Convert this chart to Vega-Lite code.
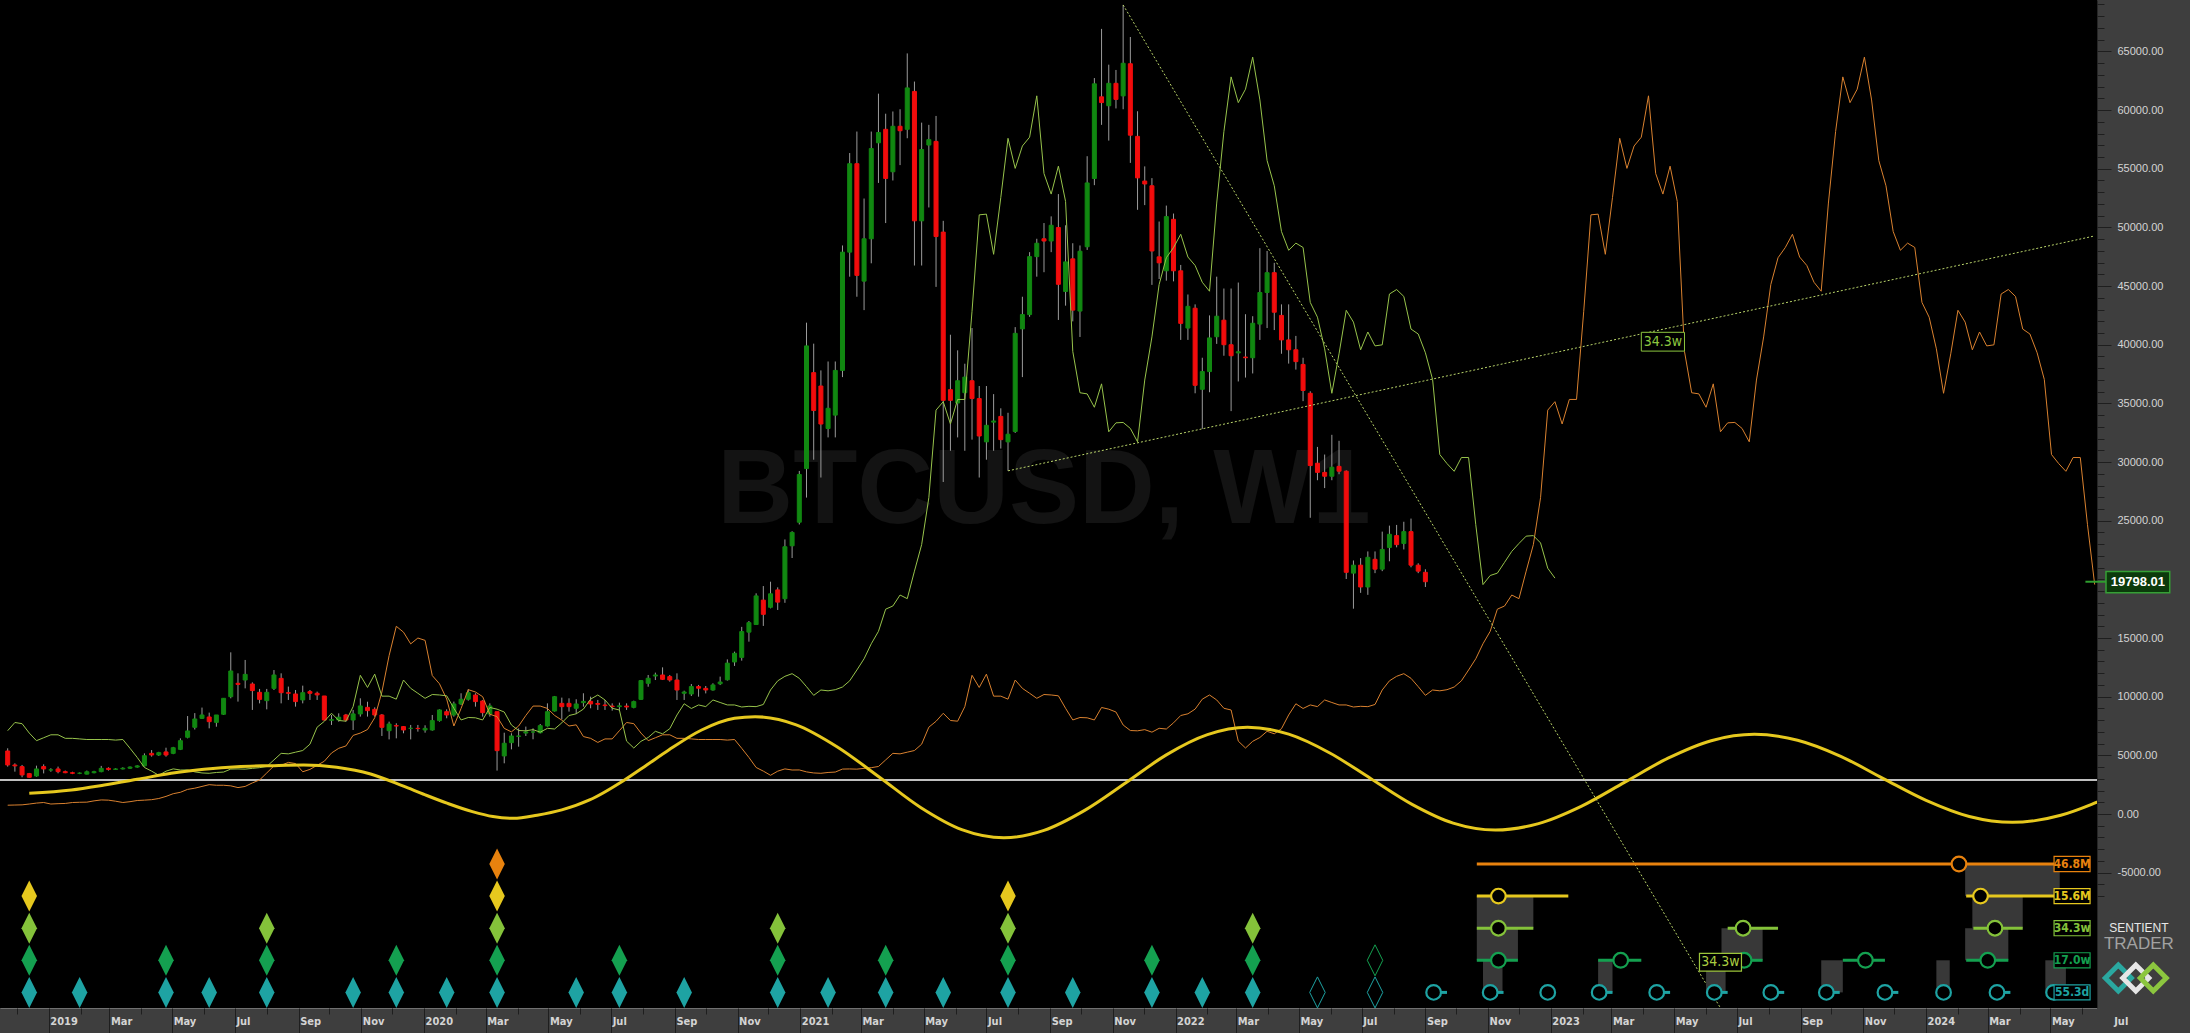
{
"$schema":"https://vega.github.io/schema/vega-lite/v6.json",
"width":2097,"height":1008,
"autosize":{"type":"none"},
"padding":{"left":0,"top":0,"right":93,"bottom":25},
"background":"#3e3e3e",
"config":{"view":{"fill":"#000000","stroke":null},"font":"Liberation Sans"},
"datasets":{
"w":[
{"d":"2018-11-22","o":5370,"h":5600,"l":4040,"c":4180,"g":7100,"r":750},
{"d":"2018-11-29","o":4180,"h":4320,"l":3610,"c":4100,"g":7800,"r":765},
{"d":"2018-12-06","o":4040,"h":4180,"l":3130,"c":3330,"g":7700,"r":780},
{"d":"2018-12-13","o":3440,"h":3500,"l":3100,"c":3130,"g":6900,"r":850},
{"d":"2018-12-20","o":3240,"h":4120,"l":3180,"c":3840,"g":6250,"r":930},
{"d":"2018-12-27","o":4040,"h":4230,"l":3460,"c":3840,"g":6500,"r":980},
{"d":"2019-01-03","o":3750,"h":3900,"l":3600,"c":3760,"g":6750,"r":850},
{"d":"2019-01-10","o":3840,"h":4040,"l":3470,"c":3610,"g":6750,"r":880},
{"d":"2019-01-17","o":3610,"h":3700,"l":3480,"c":3520,"g":6450,"r":900},
{"d":"2019-01-24","o":3520,"h":3600,"l":3400,"c":3470,"g":6450,"r":980},
{"d":"2019-01-31","o":3470,"h":3540,"l":3400,"c":3480,"g":6400,"r":1000},
{"d":"2019-02-07","o":3400,"h":3700,"l":3380,"c":3600,"g":6350,"r":1010},
{"d":"2019-02-14","o":3520,"h":3680,"l":3470,"c":3610,"g":6350,"r":1120},
{"d":"2019-02-21","o":3610,"h":4100,"l":3560,"c":3890,"g":6350,"r":1200},
{"d":"2019-02-28","o":3890,"h":3980,"l":3700,"c":3800,"g":6350,"r":1180},
{"d":"2019-03-07","o":3800,"h":3900,"l":3750,"c":3840,"g":6300,"r":1090},
{"d":"2019-03-14","o":3840,"h":3980,"l":3800,"c":3900,"g":6350,"r":980},
{"d":"2019-03-21","o":3900,"h":4050,"l":3850,"c":4000,"g":5600,"r":1050},
{"d":"2019-03-28","o":4000,"h":4150,"l":3950,"c":4100,"g":4820,"r":1150},
{"d":"2019-04-04","o":4100,"h":5170,"l":4050,"c":4970,"g":3965,"r":1180},
{"d":"2019-04-11","o":5170,"h":5450,"l":4890,"c":5030,"g":3655,"r":1220},
{"d":"2019-04-18","o":5030,"h":5300,"l":4950,"c":5230,"g":3300,"r":1320},
{"d":"2019-04-25","o":5290,"h":5650,"l":4890,"c":5030,"g":3650,"r":1500},
{"d":"2019-05-02","o":5170,"h":5720,"l":5100,"c":5650,"g":3845,"r":1730},
{"d":"2019-05-09","o":5510,"h":6450,"l":5450,"c":6250,"g":3750,"r":1850},
{"d":"2019-05-16","o":6540,"h":8350,"l":6450,"c":7080,"g":3755,"r":2100},
{"d":"2019-05-23","o":7390,"h":8600,"l":7200,"c":8100,"g":3590,"r":2200},
{"d":"2019-05-30","o":8150,"h":9070,"l":8100,"c":8440,"g":3500,"r":2350},
{"d":"2019-06-06","o":8270,"h":8640,"l":7300,"c":7870,"g":3470,"r":2500},
{"d":"2019-06-13","o":7810,"h":8380,"l":7440,"c":8440,"g":3540,"r":2450},
{"d":"2019-06-20","o":8500,"h":9860,"l":8440,"c":9860,"g":3575,"r":2450},
{"d":"2019-06-27","o":10000,"h":13780,"l":9860,"c":12190,"g":3830,"r":2400},
{"d":"2019-07-04","o":11140,"h":11990,"l":9580,"c":11050,"g":3840,"r":2250},
{"d":"2019-07-11","o":11420,"h":13130,"l":10710,"c":11900,"g":3825,"r":2350},
{"d":"2019-07-18","o":11080,"h":11220,"l":8870,"c":10520,"g":3890,"r":2650},
{"d":"2019-07-25","o":10370,"h":10660,"l":9430,"c":9770,"g":3950,"r":2900},
{"d":"2019-08-01","o":9660,"h":10660,"l":8920,"c":10370,"g":4050,"r":3500},
{"d":"2019-08-08","o":10710,"h":12270,"l":10570,"c":11850,"g":4610,"r":4100},
{"d":"2019-08-15","o":11560,"h":11990,"l":9430,"c":10340,"g":5170,"r":4150},
{"d":"2019-08-22","o":10340,"h":10860,"l":9720,"c":10290,"g":5125,"r":4400},
{"d":"2019-08-29","o":10230,"h":10570,"l":9150,"c":9580,"g":5270,"r":4300},
{"d":"2019-09-05","o":9720,"h":10940,"l":9430,"c":10340,"g":5410,"r":3600},
{"d":"2019-09-12","o":10430,"h":10570,"l":9720,"c":10290,"g":5950,"r":3800},
{"d":"2019-09-19","o":10290,"h":10430,"l":9720,"c":10150,"g":7400,"r":4150},
{"d":"2019-09-26","o":10060,"h":10060,"l":7960,"c":8010,"g":7900,"r":4500},
{"d":"2019-10-03","o":7990,"h":8440,"l":7590,"c":8040,"g":8585,"r":5200},
{"d":"2019-10-10","o":8020,"h":8580,"l":7870,"c":8250,"g":7970,"r":5600},
{"d":"2019-10-17","o":8440,"h":8530,"l":7870,"c":8010,"g":7910,"r":5800},
{"d":"2019-10-24","o":8010,"h":8870,"l":7160,"c":8530,"g":9150,"r":6700},
{"d":"2019-10-31","o":8530,"h":9860,"l":8300,"c":9210,"g":11820,"r":6900},
{"d":"2019-11-07","o":9090,"h":9570,"l":8300,"c":8810,"g":10785,"r":7200},
{"d":"2019-11-14","o":8920,"h":9090,"l":8300,"c":8440,"g":11920,"r":8200},
{"d":"2019-11-21","o":8440,"h":8520,"l":6650,"c":7390,"g":10045,"r":10400},
{"d":"2019-11-28","o":7100,"h":7870,"l":6360,"c":7670,"g":10045,"r":13500},
{"d":"2019-12-05","o":7530,"h":7730,"l":6450,"c":7500,"g":9790,"r":16000},
{"d":"2019-12-12","o":7450,"h":7500,"l":6880,"c":7160,"g":11420,"r":15500},
{"d":"2019-12-19","o":7300,"h":7590,"l":6360,"c":7300,"g":10710,"r":14500},
{"d":"2019-12-26","o":7300,"h":7590,"l":7020,"c":7280,"g":10290,"r":15000},
{"d":"2020-01-02","o":7160,"h":7560,"l":6930,"c":7300,"g":9860,"r":14800},
{"d":"2020-01-09","o":7160,"h":8440,"l":7100,"c":7960,"g":10185,"r":11800},
{"d":"2020-01-16","o":7960,"h":8920,"l":7870,"c":8870,"g":10145,"r":11100},
{"d":"2020-01-23","o":8720,"h":8920,"l":8160,"c":8440,"g":10075,"r":9800},
{"d":"2020-01-30","o":8440,"h":9580,"l":8300,"c":9380,"g":9010,"r":7500},
{"d":"2020-02-06","o":9380,"h":10290,"l":9290,"c":9780,"g":8015,"r":9000},
{"d":"2020-02-13","o":9780,"h":10630,"l":9660,"c":10340,"g":8225,"r":10600},
{"d":"2020-02-20","o":10140,"h":10290,"l":9150,"c":9580,"g":8200,"r":10400},
{"d":"2020-02-27","o":9630,"h":9720,"l":8300,"c":8640,"g":8015,"r":10000},
{"d":"2020-03-05","o":8520,"h":9430,"l":8300,"c":9210,"g":9080,"r":8500},
{"d":"2020-03-12","o":8720,"h":8720,"l":3700,"c":5400,"g":8935,"r":8300},
{"d":"2020-03-19","o":4950,"h":6930,"l":4320,"c":6030,"g":8695,"r":7300},
{"d":"2020-03-26","o":6080,"h":6880,"l":5510,"c":6650,"g":7585,"r":7000},
{"d":"2020-04-02","o":6620,"h":7300,"l":5740,"c":6650,"g":7115,"r":7500},
{"d":"2020-04-09","o":6900,"h":7450,"l":6650,"c":7000,"g":7090,"r":8400},
{"d":"2020-04-16","o":6990,"h":7300,"l":6370,"c":6990,"g":7190,"r":9200},
{"d":"2020-04-23","o":6930,"h":7670,"l":6870,"c":7530,"g":6975,"r":9200},
{"d":"2020-04-30","o":7500,"h":9430,"l":7450,"c":8720,"g":7305,"r":9000},
{"d":"2020-05-07","o":8780,"h":10060,"l":8730,"c":10000,"g":7245,"r":8400},
{"d":"2020-05-14","o":9430,"h":9920,"l":8070,"c":9150,"g":7770,"r":8000},
{"d":"2020-05-21","o":9430,"h":9860,"l":8730,"c":9150,"g":8395,"r":7500},
{"d":"2020-05-28","o":9010,"h":9780,"l":8530,"c":9380,"g":8540,"r":7600},
{"d":"2020-06-04","o":9490,"h":10290,"l":9150,"c":9600,"g":8940,"r":6600},
{"d":"2020-06-11","o":9600,"h":10000,"l":9010,"c":9380,"g":9790,"r":6450},
{"d":"2020-06-18","o":9420,"h":9720,"l":8870,"c":9350,"g":10145,"r":6100},
{"d":"2020-06-25","o":9290,"h":9720,"l":8870,"c":9240,"g":9720,"r":6400},
{"d":"2020-07-02","o":9200,"h":9430,"l":8810,"c":9150,"g":9010,"r":6400},
{"d":"2020-07-09","o":9150,"h":9490,"l":8870,"c":9220,"g":8865,"r":7100},
{"d":"2020-07-16","o":9200,"h":9430,"l":8870,"c":9120,"g":6210,"r":7800},
{"d":"2020-07-23","o":9090,"h":9660,"l":9010,"c":9580,"g":5625,"r":7700},
{"d":"2020-07-30","o":9770,"h":11420,"l":9720,"c":11370,"g":6195,"r":6900},
{"d":"2020-08-06","o":11140,"h":11850,"l":10850,"c":11570,"g":6520,"r":6250},
{"d":"2020-08-13","o":11760,"h":12050,"l":11420,"c":11850,"g":7050,"r":6500},
{"d":"2020-08-20","o":11850,"h":12500,"l":11420,"c":11480,"g":6835,"r":6750},
{"d":"2020-08-27","o":11710,"h":11850,"l":11280,"c":11420,"g":7270,"r":6750},
{"d":"2020-09-03","o":11420,"h":11990,"l":9720,"c":10570,"g":8440,"r":6450},
{"d":"2020-09-10","o":10290,"h":10510,"l":9720,"c":10400,"g":9395,"r":6450},
{"d":"2020-09-17","o":10230,"h":11080,"l":10060,"c":10860,"g":8995,"r":6400},
{"d":"2020-09-24","o":10860,"h":11000,"l":10000,"c":10720,"g":9295,"r":6350},
{"d":"2020-10-01","o":10710,"h":10910,"l":10280,"c":10570,"g":9155,"r":6350},
{"d":"2020-10-08","o":10570,"h":11140,"l":10510,"c":11000,"g":9720,"r":6350},
{"d":"2020-10-15","o":11100,"h":11710,"l":10990,"c":11250,"g":9505,"r":6350},
{"d":"2020-10-22","o":11440,"h":13180,"l":11370,"c":12860,"g":9295,"r":6300},
{"d":"2020-10-29","o":12960,"h":13840,"l":12620,"c":13700,"g":9295,"r":6350},
{"d":"2020-11-05","o":13350,"h":15950,"l":13070,"c":15550,"g":9120,"r":5600},
{"d":"2020-11-12","o":15500,"h":16450,"l":14690,"c":16310,"g":9180,"r":4820},
{"d":"2020-11-19","o":16150,"h":18810,"l":16110,"c":18590,"g":9150,"r":3965},
{"d":"2020-11-26","o":18230,"h":19430,"l":16030,"c":17020,"g":9335,"r":3655},
{"d":"2020-12-03","o":17620,"h":19800,"l":17530,"c":18770,"g":10570,"r":3300},
{"d":"2020-12-10","o":19100,"h":19320,"l":17390,"c":18060,"g":11350,"r":3650},
{"d":"2020-12-17","o":18350,"h":23400,"l":18000,"c":22780,"g":11735,"r":3845},
{"d":"2020-12-24","o":22860,"h":24100,"l":21820,"c":24000,"g":11960,"r":3750},
{"d":"2020-12-31","o":24870,"h":29240,"l":24680,"c":28940,"g":11565,"r":3755},
{"d":"2021-01-07","o":29440,"h":41880,"l":26970,"c":39900,"g":10855,"r":3590},
{"d":"2021-01-14","o":37620,"h":40090,"l":30200,"c":34390,"g":10115,"r":3500},
{"d":"2021-01-21","o":36480,"h":37810,"l":28680,"c":33240,"g":10570,"r":3470},
{"d":"2021-01-28","o":32860,"h":38570,"l":32100,"c":34580,"g":10500,"r":3540},
{"d":"2021-02-04","o":34000,"h":38570,"l":32100,"c":37810,"g":10595,"r":3575},
{"d":"2021-02-11","o":37810,"h":48460,"l":37240,"c":47890,"g":10825,"r":3830},
{"d":"2021-02-18","o":47890,"h":56340,"l":45800,"c":55430,"g":11350,"r":3840},
{"d":"2021-02-25","o":55430,"h":58170,"l":44090,"c":45910,"g":12275,"r":3825},
{"d":"2021-03-04","o":45420,"h":52460,"l":42950,"c":49030,"g":13230,"r":3890},
{"d":"2021-03-11","o":49030,"h":58170,"l":46940,"c":56720,"g":14510,"r":3950},
{"d":"2021-03-18","o":57210,"h":61400,"l":53790,"c":58090,"g":15570,"r":4050},
{"d":"2021-03-25","o":58360,"h":59690,"l":50370,"c":54170,"g":17460,"r":4610},
{"d":"2021-04-01","o":54740,"h":59880,"l":54000,"c":58620,"g":17730,"r":5170},
{"d":"2021-04-08","o":58620,"h":60070,"l":55310,"c":58240,"g":18665,"r":5125},
{"d":"2021-04-15","o":58360,"h":64830,"l":57600,"c":61890,"g":18355,"r":5270},
{"d":"2021-04-22","o":61590,"h":62430,"l":46750,"c":50560,"g":20700,"r":5410},
{"d":"2021-04-29","o":50560,"h":58930,"l":46750,"c":56640,"g":22960,"r":5950},
{"d":"2021-05-06","o":57020,"h":58740,"l":51700,"c":57480,"g":26960,"r":7400},
{"d":"2021-05-13","o":57330,"h":59500,"l":44930,"c":49220,"g":34425,"r":7900},
{"d":"2021-05-20","o":49600,"h":50560,"l":28300,"c":35260,"g":35145,"r":8585},
{"d":"2021-05-27","o":36170,"h":40850,"l":30960,"c":35260,"g":33245,"r":7970},
{"d":"2021-06-03","o":35030,"h":39520,"l":32100,"c":36930,"g":35335,"r":7910},
{"d":"2021-06-10","o":35910,"h":38380,"l":30960,"c":37240,"g":35335,"r":9150},
{"d":"2021-06-17","o":36930,"h":41420,"l":31910,"c":35410,"g":42850,"r":11820},
{"d":"2021-06-24","o":35410,"h":36480,"l":28680,"c":32220,"g":51070,"r":10785},
{"d":"2021-07-01","o":31720,"h":36480,"l":30200,"c":33130,"g":51130,"r":11920},
{"d":"2021-07-08","o":33400,"h":35790,"l":30960,"c":33500,"g":47705,"r":10045},
{"d":"2021-07-15","o":33890,"h":34580,"l":31150,"c":31910,"g":52555,"r":10045},
{"d":"2021-07-22","o":31720,"h":34200,"l":29250,"c":32370,"g":57595,"r":9790},
{"d":"2021-07-29","o":32600,"h":41500,"l":32480,"c":40970,"g":55030,"r":11420},
{"d":"2021-08-05","o":41350,"h":44090,"l":37240,"c":42570,"g":56940,"r":10710},
{"d":"2021-08-12","o":42570,"h":47890,"l":42380,"c":47510,"g":57690,"r":10290},
{"d":"2021-08-19","o":47510,"h":49030,"l":45800,"c":48650,"g":61215,"r":9860},
{"d":"2021-08-26","o":49030,"h":50370,"l":46180,"c":48840,"g":54590,"r":10185},
{"d":"2021-09-02","o":48840,"h":50940,"l":47890,"c":50180,"g":52840,"r":10145},
{"d":"2021-09-09","o":49990,"h":52840,"l":42110,"c":45150,"g":55220,"r":10075},
{"d":"2021-09-16","o":44540,"h":50180,"l":43330,"c":47060,"g":52215,"r":9010},
{"d":"2021-09-23","o":47320,"h":48650,"l":41990,"c":42950,"g":39430,"r":8015},
{"d":"2021-09-30","o":42870,"h":48460,"l":40660,"c":47970,"g":35905,"r":8225},
{"d":"2021-10-07","o":48350,"h":56070,"l":48080,"c":53790,"g":35810,"r":8200},
{"d":"2021-10-14","o":54170,"h":62730,"l":53600,"c":62240,"g":34670,"r":8015},
{"d":"2021-10-21","o":61130,"h":66920,"l":58740,"c":60640,"g":36665,"r":9080},
{"d":"2021-10-28","o":60370,"h":63870,"l":57400,"c":62280,"g":32580,"r":8935},
{"d":"2021-11-04","o":62280,"h":63420,"l":60140,"c":60910,"g":33340,"r":8695},
{"d":"2021-11-11","o":61210,"h":68960,"l":60070,"c":63990,"g":33375,"r":7585},
{"d":"2021-11-18","o":63950,"h":66230,"l":55500,"c":57860,"g":32865,"r":7115},
{"d":"2021-11-25","o":57760,"h":59900,"l":51500,"c":54220,"g":31725,"r":7090},
{"d":"2021-12-02","o":53950,"h":55200,"l":51900,"c":53700,"g":36990,"r":7190},
{"d":"2021-12-09","o":53550,"h":54200,"l":45100,"c":47990,"g":40665,"r":6975},
{"d":"2021-12-16","o":47490,"h":50500,"l":45600,"c":46980,"g":45135,"r":7305},
{"d":"2021-12-23","o":46300,"h":51860,"l":45460,"c":50920,"g":47415,"r":7245},
{"d":"2021-12-30","o":50690,"h":51180,"l":45400,"c":46300,"g":48275,"r":7770},
{"d":"2022-01-06","o":46300,"h":46800,"l":40410,"c":41820,"g":49415,"r":8395},
{"d":"2022-01-13","o":41420,"h":44280,"l":40410,"c":43270,"g":47475,"r":8540},
{"d":"2022-01-20","o":43110,"h":43440,"l":35860,"c":36540,"g":46755,"r":8940},
{"d":"2022-01-27","o":36200,"h":38890,"l":32830,"c":37710,"g":45320,"r":9790},
{"d":"2022-02-03","o":37710,"h":42500,"l":35950,"c":40580,"g":44560,"r":10145},
{"d":"2022-02-10","o":40680,"h":45800,"l":40070,"c":42430,"g":52075,"r":9720},
{"d":"2022-02-17","o":42090,"h":44790,"l":39060,"c":40000,"g":58165,"r":9010},
{"d":"2022-02-24","o":40000,"h":44790,"l":34340,"c":39060,"g":62830,"r":8865},
{"d":"2022-03-03","o":39300,"h":45300,"l":36870,"c":39400,"g":60635,"r":6210},
{"d":"2022-03-10","o":38950,"h":42600,"l":37200,"c":38890,"g":61780,"r":5625},
{"d":"2022-03-17","o":38890,"h":42430,"l":37550,"c":41830,"g":64515,"r":6195},
{"d":"2022-03-24","o":41760,"h":48230,"l":40410,"c":44450,"g":60865,"r":6520},
{"d":"2022-03-31","o":44450,"h":47990,"l":41420,"c":46140,"g":55700,"r":7050},
{"d":"2022-04-07","o":46140,"h":46980,"l":41250,"c":42770,"g":53550,"r":6835},
{"d":"2022-04-14","o":42500,"h":43440,"l":39230,"c":40410,"g":49650,"r":7270},
{"d":"2022-04-21","o":40410,"h":43440,"l":38390,"c":39570,"g":48050,"r":8440},
{"d":"2022-04-28","o":39570,"h":40750,"l":37880,"c":38560,"g":48660,"r":9395},
{"d":"2022-05-05","o":38320,"h":38890,"l":35190,"c":36100,"g":48290,"r":8995},
{"d":"2022-05-12","o":35860,"h":36030,"l":25250,"c":29700,"g":43605,"r":9295},
{"d":"2022-05-19","o":29900,"h":31290,"l":28450,"c":29120,"g":42345,"r":9155},
{"d":"2022-05-26","o":29120,"h":30640,"l":27780,"c":28790,"g":39650,"r":9720},
{"d":"2022-06-02","o":28790,"h":32320,"l":28450,"c":29560,"g":35860,"r":9505},
{"d":"2022-06-09","o":29630,"h":31810,"l":28960,"c":29220,"g":39225,"r":9295},
{"d":"2022-06-16","o":29220,"h":29290,"l":20030,"c":20600,"g":42935,"r":9295},
{"d":"2022-06-23","o":20530,"h":21610,"l":17500,"c":21210,"g":41925,"r":9120},
{"d":"2022-06-30","o":21210,"h":21810,"l":18850,"c":19350,"g":39565,"r":9180},
{"d":"2022-07-07","o":19350,"h":22380,"l":18680,"c":21880,"g":41085,"r":9150},
{"d":"2022-07-14","o":21710,"h":22380,"l":20530,"c":20870,"g":39900,"r":9335},
{"d":"2022-07-21","o":20870,"h":24070,"l":20700,"c":22550,"g":39990,"r":10570},
{"d":"2022-07-28","o":22720,"h":24580,"l":21540,"c":23840,"g":44320,"r":11350},
{"d":"2022-08-04","o":23730,"h":24640,"l":22730,"c":22960,"g":44705,"r":11735},
{"d":"2022-08-11","o":23060,"h":24910,"l":22550,"c":24070,"g":44115,"r":11960},
{"d":"2022-08-18","o":24070,"h":25180,"l":21030,"c":21210,"g":41335,"r":11565},
{"d":"2022-08-25","o":21210,"h":21370,"l":20530,"c":20700,"g":40915,"r":10855},
{"d":"2022-09-01","o":20600,"h":20860,"l":19350,"c":19798.01,"g":39315,"r":10115},
{"d":"2022-09-08","g":37040,"r":10570},
{"d":"2022-09-15","g":30640,"r":10500},
{"d":"2022-09-22","g":29870,"r":10595},
{"d":"2022-09-29","g":29210,"r":10825},
{"d":"2022-10-06","g":30385,"r":11350},
{"d":"2022-10-13","g":30385,"r":12275},
{"d":"2022-10-20","g":24660,"r":13230},
{"d":"2022-10-27","g":19555,"r":14510},
{"d":"2022-11-03","g":20330,"r":15570},
{"d":"2022-11-10","g":20530,"r":17460},
{"d":"2022-11-17","g":21455,"r":17730},
{"d":"2022-11-24","g":22385,"r":18665},
{"d":"2022-12-01","g":23060,"r":18355},
{"d":"2022-12-08","g":23685,"r":20700},
{"d":"2022-12-15","g":23730,"r":22960},
{"d":"2022-12-22","g":23105,"r":26960},
{"d":"2022-12-29","g":20950,"r":34425},
{"d":"2023-01-05","g":20105,"r":35145},
{"d":"2023-01-12","r":33245},{"d":"2023-01-19","r":35335},{"d":"2023-01-26","r":35335},
{"d":"2023-02-02","r":42850},{"d":"2023-02-09","r":51070},{"d":"2023-02-16","r":51130},{"d":"2023-02-23","r":47705},
{"d":"2023-03-02","r":52555},{"d":"2023-03-09","r":57595},{"d":"2023-03-16","r":55030},{"d":"2023-03-23","r":56940},{"d":"2023-03-30","r":57690},
{"d":"2023-04-06","r":61215},{"d":"2023-04-13","r":54590},{"d":"2023-04-20","r":52840},{"d":"2023-04-27","r":55220},
{"d":"2023-05-04","r":52215},{"d":"2023-05-11","r":39430},{"d":"2023-05-18","r":35905},{"d":"2023-05-25","r":35810},
{"d":"2023-06-01","r":34670},{"d":"2023-06-08","r":36665},{"d":"2023-06-15","r":32580},{"d":"2023-06-22","r":33340},{"d":"2023-06-29","r":33375},
{"d":"2023-07-06","r":32865},{"d":"2023-07-13","r":31725},{"d":"2023-07-20","r":36990},{"d":"2023-07-27","r":40665},
{"d":"2023-08-03","r":45135},{"d":"2023-08-10","r":47415},{"d":"2023-08-17","r":48275},{"d":"2023-08-24","r":49415},{"d":"2023-08-31","r":47475},
{"d":"2023-09-07","r":46755},{"d":"2023-09-14","r":45320},{"d":"2023-09-21","r":44560},{"d":"2023-09-28","r":52075},
{"d":"2023-10-05","r":58165},{"d":"2023-10-12","r":62830},{"d":"2023-10-19","r":60635},{"d":"2023-10-26","r":61780},
{"d":"2023-11-02","r":64515},{"d":"2023-11-09","r":60865},{"d":"2023-11-16","r":55700},{"d":"2023-11-23","r":53550},{"d":"2023-11-30","r":49650},
{"d":"2023-12-07","r":48050},{"d":"2023-12-14","r":48660},{"d":"2023-12-21","r":48290},{"d":"2023-12-28","r":43605},
{"d":"2024-01-04","r":42345},{"d":"2024-01-11","r":39650},{"d":"2024-01-18","r":35860},{"d":"2024-01-25","r":39225},
{"d":"2024-02-01","r":42935},{"d":"2024-02-08","r":41925},{"d":"2024-02-15","r":39565},{"d":"2024-02-22","r":41085},{"d":"2024-02-29","r":39900},
{"d":"2024-03-07","r":39990},{"d":"2024-03-14","r":44320},{"d":"2024-03-21","r":44705},{"d":"2024-03-28","r":44115},
{"d":"2024-04-04","r":41335},{"d":"2024-04-11","r":40915},{"d":"2024-04-18","r":39315},{"d":"2024-04-25","r":37040},
{"d":"2024-05-02","r":30640},{"d":"2024-05-09","r":29870},{"d":"2024-05-16","r":29210},{"d":"2024-05-23","r":30385},{"d":"2024-05-30","r":30385},
{"d":"2024-06-06","r":24660},{"d":"2024-06-13","r":19555}
],
"ys":[
{"d":"2018-12-13","v":1763},{"d":"2019-01-23","v":2047},{"d":"2019-02-24","v":2473},{"d":"2019-03-28","v":2956},
{"d":"2019-04-30","v":3467},{"d":"2019-06-01","v":3808},{"d":"2019-07-03","v":4036},{"d":"2019-08-05","v":4121},
{"d":"2019-09-06","v":4178},{"d":"2019-10-08","v":3979},{"d":"2019-11-10","v":3410},{"d":"2019-12-12","v":2370},
{"d":"2019-12-31","v":1706},{"d":"2020-01-24","v":900},{"d":"2020-02-17","v":200},{"d":"2020-03-08","v":-220},
{"d":"2020-03-28","v":-370},{"d":"2020-04-20","v":-100},{"d":"2020-05-14","v":350},{"d":"2020-06-10","v":1195},
{"d":"2020-07-14","v":2900},{"d":"2020-08-05","v":4200},{"d":"2020-08-26","v":5456},{"d":"2020-09-27","v":7160},
{"d":"2020-10-29","v":8156},{"d":"2020-11-18","v":8294},{"d":"2020-12-28","v":7603},{"d":"2021-02-06","v":5716},
{"d":"2021-03-19","v":3137},{"d":"2021-04-28","v":558},{"d":"2021-06-07","v":-1329},{"d":"2021-07-18","v":-2020},
{"d":"2021-08-26","v":-1390},{"d":"2021-10-05","v":333},{"d":"2021-11-14","v":2685},{"d":"2021-12-23","v":5037},
{"d":"2022-02-01","v":6760},{"d":"2022-03-12","v":7390},{"d":"2022-04-21","v":6803},{"d":"2022-05-31","v":5201},
{"d":"2022-07-10","v":3013},{"d":"2022-08-19","v":825},{"d":"2022-09-28","v":-777},{"d":"2022-11-08","v":-1364},
{"d":"2022-12-20","v":-817},{"d":"2023-01-31","v":676},{"d":"2023-03-14","v":2715},{"d":"2023-04-25","v":4754},
{"d":"2023-06-06","v":6247},{"d":"2023-07-18","v":6793},{"d":"2023-08-29","v":6291},{"d":"2023-10-10","v":4918},
{"d":"2023-11-20","v":3042},{"d":"2024-01-01","v":1166},{"d":"2024-02-12","v":-207},{"d":"2024-03-25","v":-710},
{"d":"2024-04-16","v":-564},{"d":"2024-05-11","v":-109},{"d":"2024-06-10","v":822},{"d":"2024-07-03","v":1718}
],
"tl":[
{"id":"a","d":"2021-11-11","v":68960},{"id":"a","d":"2023-06-15","v":-16536},
{"id":"b","d":"2021-07-22","v":29250},{"id":"b","d":"2024-06-13","v":49273}
],
"dm":[
{"d":"2018-12-13","row":4,"h":0},{"d":"2019-01-31","row":4,"h":0},{"d":"2019-04-25","row":4,"h":0},{"d":"2019-06-06","row":4,"h":0},
{"d":"2019-08-01","row":4,"h":0},{"d":"2019-10-24","row":4,"h":0},{"d":"2019-12-05","row":4,"h":0},{"d":"2020-01-23","row":4,"h":0},
{"d":"2020-03-12","row":4,"h":0},{"d":"2020-05-28","row":4,"h":0},{"d":"2020-07-09","row":4,"h":0},{"d":"2020-09-10","row":4,"h":0},
{"d":"2020-12-10","row":4,"h":0},{"d":"2021-01-28","row":4,"h":0},{"d":"2021-03-25","row":4,"h":0},{"d":"2021-05-20","row":4,"h":0},
{"d":"2021-07-22","row":4,"h":0},{"d":"2021-09-23","row":4,"h":0},{"d":"2021-12-09","row":4,"h":0},{"d":"2022-01-27","row":4,"h":0},
{"d":"2022-03-17","row":4,"h":0},
{"d":"2018-12-13","row":3,"h":0},{"d":"2019-04-25","row":3,"h":0},{"d":"2019-08-01","row":3,"h":0},{"d":"2019-12-05","row":3,"h":0},
{"d":"2020-03-12","row":3,"h":0},{"d":"2020-07-09","row":3,"h":0},{"d":"2020-12-10","row":3,"h":0},{"d":"2021-03-25","row":3,"h":0},
{"d":"2021-07-22","row":3,"h":0},{"d":"2021-12-09","row":3,"h":0},{"d":"2022-03-17","row":3,"h":0},
{"d":"2018-12-13","row":2,"h":0},{"d":"2019-08-01","row":2,"h":0},{"d":"2020-03-12","row":2,"h":0},{"d":"2020-12-10","row":2,"h":0},
{"d":"2021-07-22","row":2,"h":0},{"d":"2022-03-17","row":2,"h":0},
{"d":"2018-12-13","row":1,"h":0},{"d":"2020-03-12","row":1,"h":0},{"d":"2021-07-22","row":1,"h":0},
{"d":"2020-03-12","row":0,"h":0},
{"d":"2022-05-19","row":4,"h":1},{"d":"2022-07-14","row":4,"h":1},{"d":"2022-07-14","row":3,"h":1}
],
"pc":[
{"d":"2024-02-02","row":0},{"d":"2022-11-11","row":1},{"d":"2024-02-23","row":1},
{"d":"2022-11-11","row":2},{"d":"2023-07-07","row":2},{"d":"2024-03-08","row":2},
{"d":"2022-11-11","row":3},{"d":"2023-03-10","row":3},{"d":"2023-07-08","row":3},{"d":"2023-11-03","row":3},{"d":"2024-03-01","row":3},
{"d":"2022-09-09","row":4},{"d":"2022-11-03","row":4},{"d":"2022-12-29","row":4},{"d":"2023-02-17","row":4},{"d":"2023-04-14","row":4},
{"d":"2023-06-09","row":4},{"d":"2023-08-03","row":4},{"d":"2023-09-26","row":4},{"d":"2023-11-22","row":4},{"d":"2024-01-18","row":4},
{"d":"2024-03-10","row":4},{"d":"2024-05-04","row":4}
],
"sg":[
{"d":"2022-10-21","d2":"2024-05-06","row":0},
{"d":"2022-10-21","d2":"2023-01-18","row":1},{"d":"2024-02-09","d2":"2024-05-06","row":1},
{"d":"2022-10-21","d2":"2022-12-15","row":2},{"d":"2023-06-22","d2":"2023-08-10","row":2},{"d":"2024-02-16","d2":"2024-04-04","row":2},
{"d":"2022-10-21","d2":"2022-11-30","row":3},{"d":"2023-02-16","d2":"2023-03-30","row":3},{"d":"2023-07-06","d2":"2023-07-26","row":3},
{"d":"2023-10-12","d2":"2023-11-22","row":3},{"d":"2024-02-09","d2":"2024-03-21","row":3},
{"d":"2022-09-16","d2":"2022-09-22","row":4},{"d":"2022-11-10","d2":"2022-11-16","row":4},{"d":"2023-02-24","d2":"2023-03-02","row":4},
{"d":"2023-04-21","d2":"2023-04-27","row":4},{"d":"2023-06-16","d2":"2023-06-22","row":4},{"d":"2023-08-10","d2":"2023-08-16","row":4},
{"d":"2023-10-03","d2":"2023-10-09","row":4},{"d":"2023-11-29","d2":"2023-12-05","row":4},{"d":"2024-03-17","d2":"2024-03-23","row":4}
],
"gr":[
{"d":"2022-10-21","d2":"2022-12-15","row":1,"row2":2},{"d":"2022-10-21","d2":"2022-11-30","row":2,"row2":3},
{"d":"2022-10-27","d2":"2022-11-15","row":3,"row2":4},{"d":"2023-02-16","d2":"2023-03-02","row":3,"row2":4},
{"d":"2023-06-16","d2":"2023-07-26","row":2,"row2":3},{"d":"2023-06-01","d2":"2023-06-20","row":3,"row2":4},
{"d":"2023-09-21","d2":"2023-10-12","row":3,"row2":4},{"d":"2024-02-08","d2":"2024-05-10","row":0,"row2":1},
{"d":"2024-02-15","d2":"2024-04-04","row":1,"row2":2},{"d":"2024-02-08","d2":"2024-03-21","row":2,"row2":3},
{"d":"2024-01-11","d2":"2024-01-24","row":3,"row2":4},{"d":"2024-04-26","d2":"2024-05-16","row":3,"row2":4}
],
"lb":[
{"d":"2024-05-22","row":0,"t":"46.8M"},{"d":"2024-05-22","row":1,"t":"15.6M"},{"d":"2024-05-22","row":2,"t":"34.3w"},
{"d":"2024-05-22","row":3,"t":"17.0w"},{"d":"2024-05-22","row":4,"t":"55.3d"}
]
},
"layer":[
{"layer":[
{"data":{"values":[{"d":"2021-08-26","v":27530,"t":"BTCUSD, W1"}]},
 "mark":{"type":"text","fontSize":105,"fontWeight":"bold","font":"Liberation Sans","color":"#131313","align":"center","baseline":"middle","clip":true},
 "encoding":{
  "x":{"field":"d","type":"temporal","title":null,"scale":{"type":"utc","domain":[{"year":2018,"month":11,"date":19,"hours":9,"minutes":20,"utc":true},{"year":2024,"month":6,"date":10,"hours":9,"minutes":20,"utc":true}]},
   "axis":{"orient":"bottom","title":null,"grid":false,"tickCount":{"interval":"month","step":2},"tickSize":25,"tickColor":"#1e1e1e","tickWidth":1,"domain":true,"domainColor":"#707070","labelAlign":"left","labelOffset":1,"labelPadding":-12,"labelBaseline":"middle","labelColor":"#d4d4d4","labelFont":"Liberation Sans Narrow, DejaVu Sans Condensed, Arial Narrow, sans-serif","labelFontSize":11,"labelFontWeight":"bold","labelOverlap":false,"labelFlush":false,"labelBound":false,
   "labelExpr":"utcmonth(datum.value) == 0 ? utcFormat(datum.value, '%Y') : utcFormat(datum.value, '%b')"}},
  "y":{"field":"v","type":"quantitative","title":null,"scale":{"domain":[-16536,69383],"nice":false,"zero":false},
   "axis":{"orient":"right","title":null,"grid":false,"values":[-5000,0,5000,10000,15000,25000,30000,35000,40000,45000,50000,55000,60000,65000],"tickSize":14,"tickColor":"#1e1e1e","domain":true,"domainColor":"#262626","labelPadding":6,"labelAlign":"left","labelBaseline":"middle","labelColor":"#d4d4d4","labelFont":"Liberation Sans","labelFontSize":11,"labelOverlap":false,"labelFlush":false,
   "labelExpr":"(datum.value < 0 ? '-' : '') + format(abs(datum.value), '.2f')"}},
  "text":{"field":"t"}}},
{"data":{"values":[{"v":2900}]},
 "mark":{"type":"rule","color":"#ffffff","strokeWidth":1.5,"clip":true},
 "encoding":{"y":{"field":"v","type":"quantitative","title":null,"axis":{"orient":"right"}}}},
{"data":{"name":"w"},"transform":[{"filter":"isValid(datum.o)"}],
 "mark":{"type":"rule","color":"#9b9b9b","strokeWidth":1,"clip":true},
 "encoding":{"x":{"field":"d","type":"temporal","title":null},"y":{"field":"l","type":"quantitative","title":null,"axis":{"orient":"right"}},"y2":{"field":"h"}}},
{"data":{"name":"w"},"transform":[{"filter":"isValid(datum.o)"}],
 "mark":{"type":"bar","size":4,"strokeWidth":1,"clip":true},
 "encoding":{"x":{"field":"d","type":"temporal","title":null},"y":{"field":"o","type":"quantitative","title":null,"axis":{"orient":"right"}},"y2":{"field":"c"},
  "fill":{"condition":{"test":"datum.c >= datum.o","value":"#118811"},"value":"#f20c0c"},
  "stroke":{"condition":{"test":"datum.c >= datum.o","value":"#118811"},"value":"#f20c0c"}}},
{"data":{"name":"w"},"transform":[{"filter":"isValid(datum.r)"}],
 "mark":{"type":"line","color":"#d9812f","strokeWidth":1,"clip":true},
 "encoding":{"x":{"field":"d","type":"temporal","title":null},"y":{"field":"r","type":"quantitative","title":null,"axis":{"orient":"right"}}}},
{"data":{"name":"w"},"transform":[{"filter":"isValid(datum.g)"}],
 "mark":{"type":"line","color":"#97c34b","strokeWidth":1,"clip":true},
 "encoding":{"x":{"field":"d","type":"temporal","title":null},"y":{"field":"g","type":"quantitative","title":null,"axis":{"orient":"right"}}}},
{"data":{"name":"ys"},
 "mark":{"type":"line","color":"#e6c81e","strokeWidth":3,"interpolate":"monotone","clip":true},
 "encoding":{"x":{"field":"d","type":"temporal","title":null},"y":{"field":"v","type":"quantitative","title":null,"axis":{"orient":"right"}}}},
{"data":{"name":"tl"},
 "mark":{"type":"line","color":"#b9d46a","strokeWidth":1,"strokeDash":[2,2],"clip":true},
 "encoding":{"x":{"field":"d","type":"temporal","title":null},"y":{"field":"v","type":"quantitative","title":null,"axis":{"orient":"right"}},"detail":{"field":"id"}}},
{"data":{"values":[{"d":"2023-03-30","d2":"2023-05-11","v":41058,"v2":39456}]},
 "mark":{"type":"rect","fill":"#000000","stroke":"#8cc63f","strokeWidth":1,"clip":true},
 "encoding":{"x":{"field":"d","type":"temporal","title":null},"x2":{"field":"d2"},"y":{"field":"v","type":"quantitative","title":null,"axis":{"orient":"right"}},"y2":{"field":"v2"}}},
{"data":{"values":[{"d":"2023-04-20","v":40257,"t":"34.3w"}]},
 "mark":{"type":"text","color":"#8cc63f","fontSize":14,"font":"Liberation Sans Narrow, DejaVu Sans Condensed, Arial Narrow, sans-serif","align":"center","baseline":"middle","clip":true},
 "encoding":{"x":{"field":"d","type":"temporal","title":null},"y":{"field":"v","type":"quantitative","title":null,"axis":{"orient":"right"}},"text":{"field":"t"}}},
{"data":{"values":[{"d":"2024-06-04","d2":"2024-06-24","v":19798.01}]},
 "mark":{"type":"rule","color":"#2e9e2e","strokeWidth":2,"clip":false},
 "encoding":{"x":{"field":"d","type":"temporal","title":null},"x2":{"field":"d2"},"y":{"field":"v","type":"quantitative","title":null,"axis":{"orient":"right"}}}},
{"data":{"values":[{"d":"2024-06-24","d2":"2024-08-25","v":20661,"v2":18863}]},
 "mark":{"type":"rect","fill":"#0c3a0c","stroke":"#35a035","strokeWidth":1.5,"clip":false},
 "encoding":{"x":{"field":"d","type":"temporal","title":null},"x2":{"field":"d2"},"y":{"field":"v","type":"quantitative","title":null,"axis":{"orient":"right"}},"y2":{"field":"v2"}}},
{"data":{"values":[{"d":"2024-07-25","v":19798.01,"t":"19798.01"}]},
 "mark":{"type":"text","color":"#ffffff","fontSize":13,"fontWeight":"bold","font":"Liberation Sans","align":"center","baseline":"middle","clip":false},
 "encoding":{"x":{"field":"d","type":"temporal","title":null},"y":{"field":"v","type":"quantitative","title":null,"axis":{"orient":"right"}},"text":{"field":"t"}}}
]},
{"layer":[
{"data":{"name":"gr"},
 "mark":{"type":"rect","fill":"#383838","clip":true},
 "encoding":{"x":{"field":"d","type":"temporal","axis":null},"x2":{"field":"d2"},
  "y":{"field":"row","type":"quantitative","scale":{"domain":[0,5],"range":[864,1024.5],"nice":false,"zero":false},"axis":null},"y2":{"field":"row2"}}},
{"data":{"name":"sg"},
 "mark":{"type":"rule","strokeWidth":3,"clip":true},
 "encoding":{"x":{"field":"d","type":"temporal","axis":null},"x2":{"field":"d2"},
  "y":{"field":"row","type":"quantitative","scale":{"domain":[0,5],"range":[864,1024.5],"nice":false,"zero":false},"axis":null},
  "color":{"field":"row","type":"ordinal","scale":{"domain":[0,1,2,3,4],"range":["#e8820e","#e6c81e","#84c23a","#14a050","#1ea3a3"]},"legend":null}}},
{"data":{"name":"pc"},
 "mark":{"type":"point","shape":"circle","size":215,"fill":"#000000","fillOpacity":1,"strokeWidth":2.2,"opacity":1,"clip":true},
 "encoding":{"x":{"field":"d","type":"temporal","axis":null},
  "y":{"field":"row","type":"quantitative","scale":{"domain":[0,5],"range":[864,1024.5],"nice":false,"zero":false},"axis":null},
  "stroke":{"field":"row","type":"ordinal","scale":{"domain":[0,1,2,3,4],"range":["#e8820e","#e6c81e","#84c23a","#14a050","#1ea3a3"]},"legend":null}}},
{"data":{"name":"dm"},"transform":[{"filter":"datum.h == 0"}],
 "mark":{"type":"point","shape":"M0,-1L0.5,0L0,1L-0.5,0Z","size":961,"filled":true,"opacity":1,"strokeWidth":0,"clip":true},
 "encoding":{"x":{"field":"d","type":"temporal","axis":null},
  "y":{"field":"row","type":"quantitative","scale":{"domain":[0,5],"range":[864,1024.5],"nice":false,"zero":false},"axis":null},
  "color":{"field":"row","type":"ordinal","scale":{"domain":[0,1,2,3,4],"range":["#e8820e","#e6c81e","#84c23a","#14a050","#1ea3a3"]},"legend":null}}},
{"data":{"name":"dm"},"transform":[{"filter":"datum.h == 1"}],
 "mark":{"type":"point","shape":"M0,-1L0.5,0L0,1L-0.5,0Z","size":961,"filled":false,"opacity":1,"strokeWidth":1,"clip":true},
 "encoding":{"x":{"field":"d","type":"temporal","axis":null},
  "y":{"field":"row","type":"quantitative","scale":{"domain":[0,5],"range":[864,1024.5],"nice":false,"zero":false},"axis":null},
  "color":{"field":"row","type":"ordinal","scale":{"domain":[0,1,2,3,4],"range":["#e8820e","#e6c81e","#84c23a","#14a050","#1ea3a3"]},"legend":null}}},
{"data":{"name":"lb"},
 "mark":{"type":"point","shape":"M-1,-0.42L1,-0.42L1,0.42L-1,0.42Z","size":1296,"fill":"#000000","fillOpacity":1,"strokeWidth":1.2,"opacity":1,"clip":true},
 "encoding":{"x":{"field":"d","type":"temporal","axis":null},
  "y":{"field":"row","type":"quantitative","scale":{"domain":[0,5],"range":[864,1024.5],"nice":false,"zero":false},"axis":null},
  "stroke":{"field":"row","type":"ordinal","scale":{"domain":[0,1,2,3,4],"range":["#e8820e","#e6c81e","#84c23a","#14a050","#1ea3a3"]},"legend":null}}},
{"data":{"name":"lb"},
 "mark":{"type":"text","fontSize":12,"fontWeight":"bold","font":"Liberation Sans Narrow, DejaVu Sans Condensed, Arial Narrow, sans-serif","align":"center","baseline":"middle","clip":true},
 "encoding":{"x":{"field":"d","type":"temporal","axis":null},
  "y":{"field":"row","type":"quantitative","scale":{"domain":[0,5],"range":[864,1024.5],"nice":false,"zero":false},"axis":null},
  "color":{"field":"row","type":"ordinal","scale":{"domain":[0,1,2,3,4],"range":["#e8820e","#e6c81e","#84c23a","#14a050","#1ea3a3"]},"legend":null},
  "text":{"field":"t"}}},
{"data":{"values":[{"d":"2023-06-15","row":3.06,"t":"34.3w"}]},
 "mark":{"type":"point","shape":"M-1,-0.42L1,-0.42L1,0.42L-1,0.42Z","size":1764,"fill":"#000000","fillOpacity":1,"stroke":"#9cc43a","strokeWidth":1.2,"opacity":1,"clip":true},
 "encoding":{"x":{"field":"d","type":"temporal","axis":null},
  "y":{"field":"row","type":"quantitative","scale":{"domain":[0,5],"range":[864,1024.5],"nice":false,"zero":false},"axis":null}}},
{"data":{"values":[{"d":"2023-06-15","row":3.06,"t":"34.3w"}]},
 "mark":{"type":"text","fontSize":14,"color":"#a8cc40","font":"Liberation Sans Narrow, DejaVu Sans Condensed, Arial Narrow, sans-serif","align":"center","baseline":"middle","clip":true},
 "encoding":{"x":{"field":"d","type":"temporal","axis":null},
  "y":{"field":"row","type":"quantitative","scale":{"domain":[0,5],"range":[864,1024.5],"nice":false,"zero":false},"axis":null},
  "text":{"field":"t"}}},
{"data":{"values":[{"d":"2024-07-26","row":1.98,"t":"SENTIENT"}]},
 "mark":{"type":"text","align":"center","baseline":"middle","font":"Liberation Sans","fontSize":12,"color":"#e8e8e8","clip":false},
 "encoding":{"x":{"field":"d","type":"temporal","axis":null},
  "y":{"field":"row","type":"quantitative","scale":{"domain":[0,5],"range":[864,1024.5],"nice":false,"zero":false},"axis":null},
  "text":{"field":"t"}}},
{"data":{"values":[{"d":"2024-07-26","row":2.5,"t":"TRADER"}]},
 "mark":{"type":"text","align":"center","baseline":"middle","font":"Liberation Sans","fontSize":17,"color":"#a2a2a2","clip":false},
 "encoding":{"x":{"field":"d","type":"temporal","axis":null},
  "y":{"field":"row","type":"quantitative","scale":{"domain":[0,5],"range":[864,1024.5],"nice":false,"zero":false},"axis":null},
  "text":{"field":"t"}}},
{"data":{"values":[{"d":"2024-07-06","row":3.55,"k":"t"},{"d":"2024-07-23","row":3.55,"k":"w"},{"d":"2024-08-09","row":3.55,"k":"g"}]},
 "mark":{"type":"point","shape":"diamond","size":676,"filled":false,"strokeWidth":5,"opacity":1,"clip":false},
 "encoding":{"x":{"field":"d","type":"temporal","axis":null},
  "y":{"field":"row","type":"quantitative","scale":{"domain":[0,5],"range":[864,1024.5],"nice":false,"zero":false},"axis":null},
  "stroke":{"condition":[{"test":"datum.k == 't'","value":"#2aa8a0"},{"test":"datum.k == 'w'","value":"#e6e6e6"}],"value":"#8cc63f"}}},
{"data":{"values":[{"d":"2024-07-01","row":4.93,"t":"Jul"}]},
 "mark":{"type":"text","align":"left","dx":1,"baseline":"middle","color":"#d4d4d4","fontSize":11,"fontWeight":"bold","font":"Liberation Sans Narrow, DejaVu Sans Condensed, Arial Narrow, sans-serif","clip":false},
 "encoding":{"x":{"field":"d","type":"temporal","axis":null},
  "y":{"field":"row","type":"quantitative","scale":{"domain":[0,5],"range":[864,1024.5],"nice":false,"zero":false},"axis":null},
  "text":{"field":"t"}}}
]},
{"data":{"values":[{"d":"2020-01-01","v":0}]},
 "mark":{"type":"point","opacity":0},
 "encoding":{
  "x":{"field":"d","type":"temporal","axis":{"orient":"bottom","title":null,"grid":false,"tickCount":{"interval":"month","step":1},"labels":false,"domain":false,"tickSize":6,"tickColor":"#1e1e1e"}},
  "y":{"field":"v","type":"quantitative","scale":{"domain":[-16536,69383],"nice":false,"zero":false},
   "axis":{"orient":"right","title":null,"grid":false,"labels":false,"domain":false,"tickSize":7,"tickColor":"#1e1e1e",
   "values":[-7000,-6000,-5000,-4000,-3000,-2000,-1000,0,1000,2000,3000,4000,5000,6000,7000,8000,9000,10000,11000,12000,13000,14000,15000,16000,17000,18000,19000,20000,21000,22000,23000,24000,25000,26000,27000,28000,29000,30000,31000,32000,33000,34000,35000,36000,37000,38000,39000,40000,41000,42000,43000,44000,45000,46000,47000,48000,49000,50000,51000,52000,53000,54000,55000,56000,57000,58000,59000,60000,61000,62000,63000,64000,65000,66000,67000,68000,69000]}}}}
],
"resolve":{"scale":{"y":"independent"},"axis":{"x":"independent","y":"independent"}}
}
